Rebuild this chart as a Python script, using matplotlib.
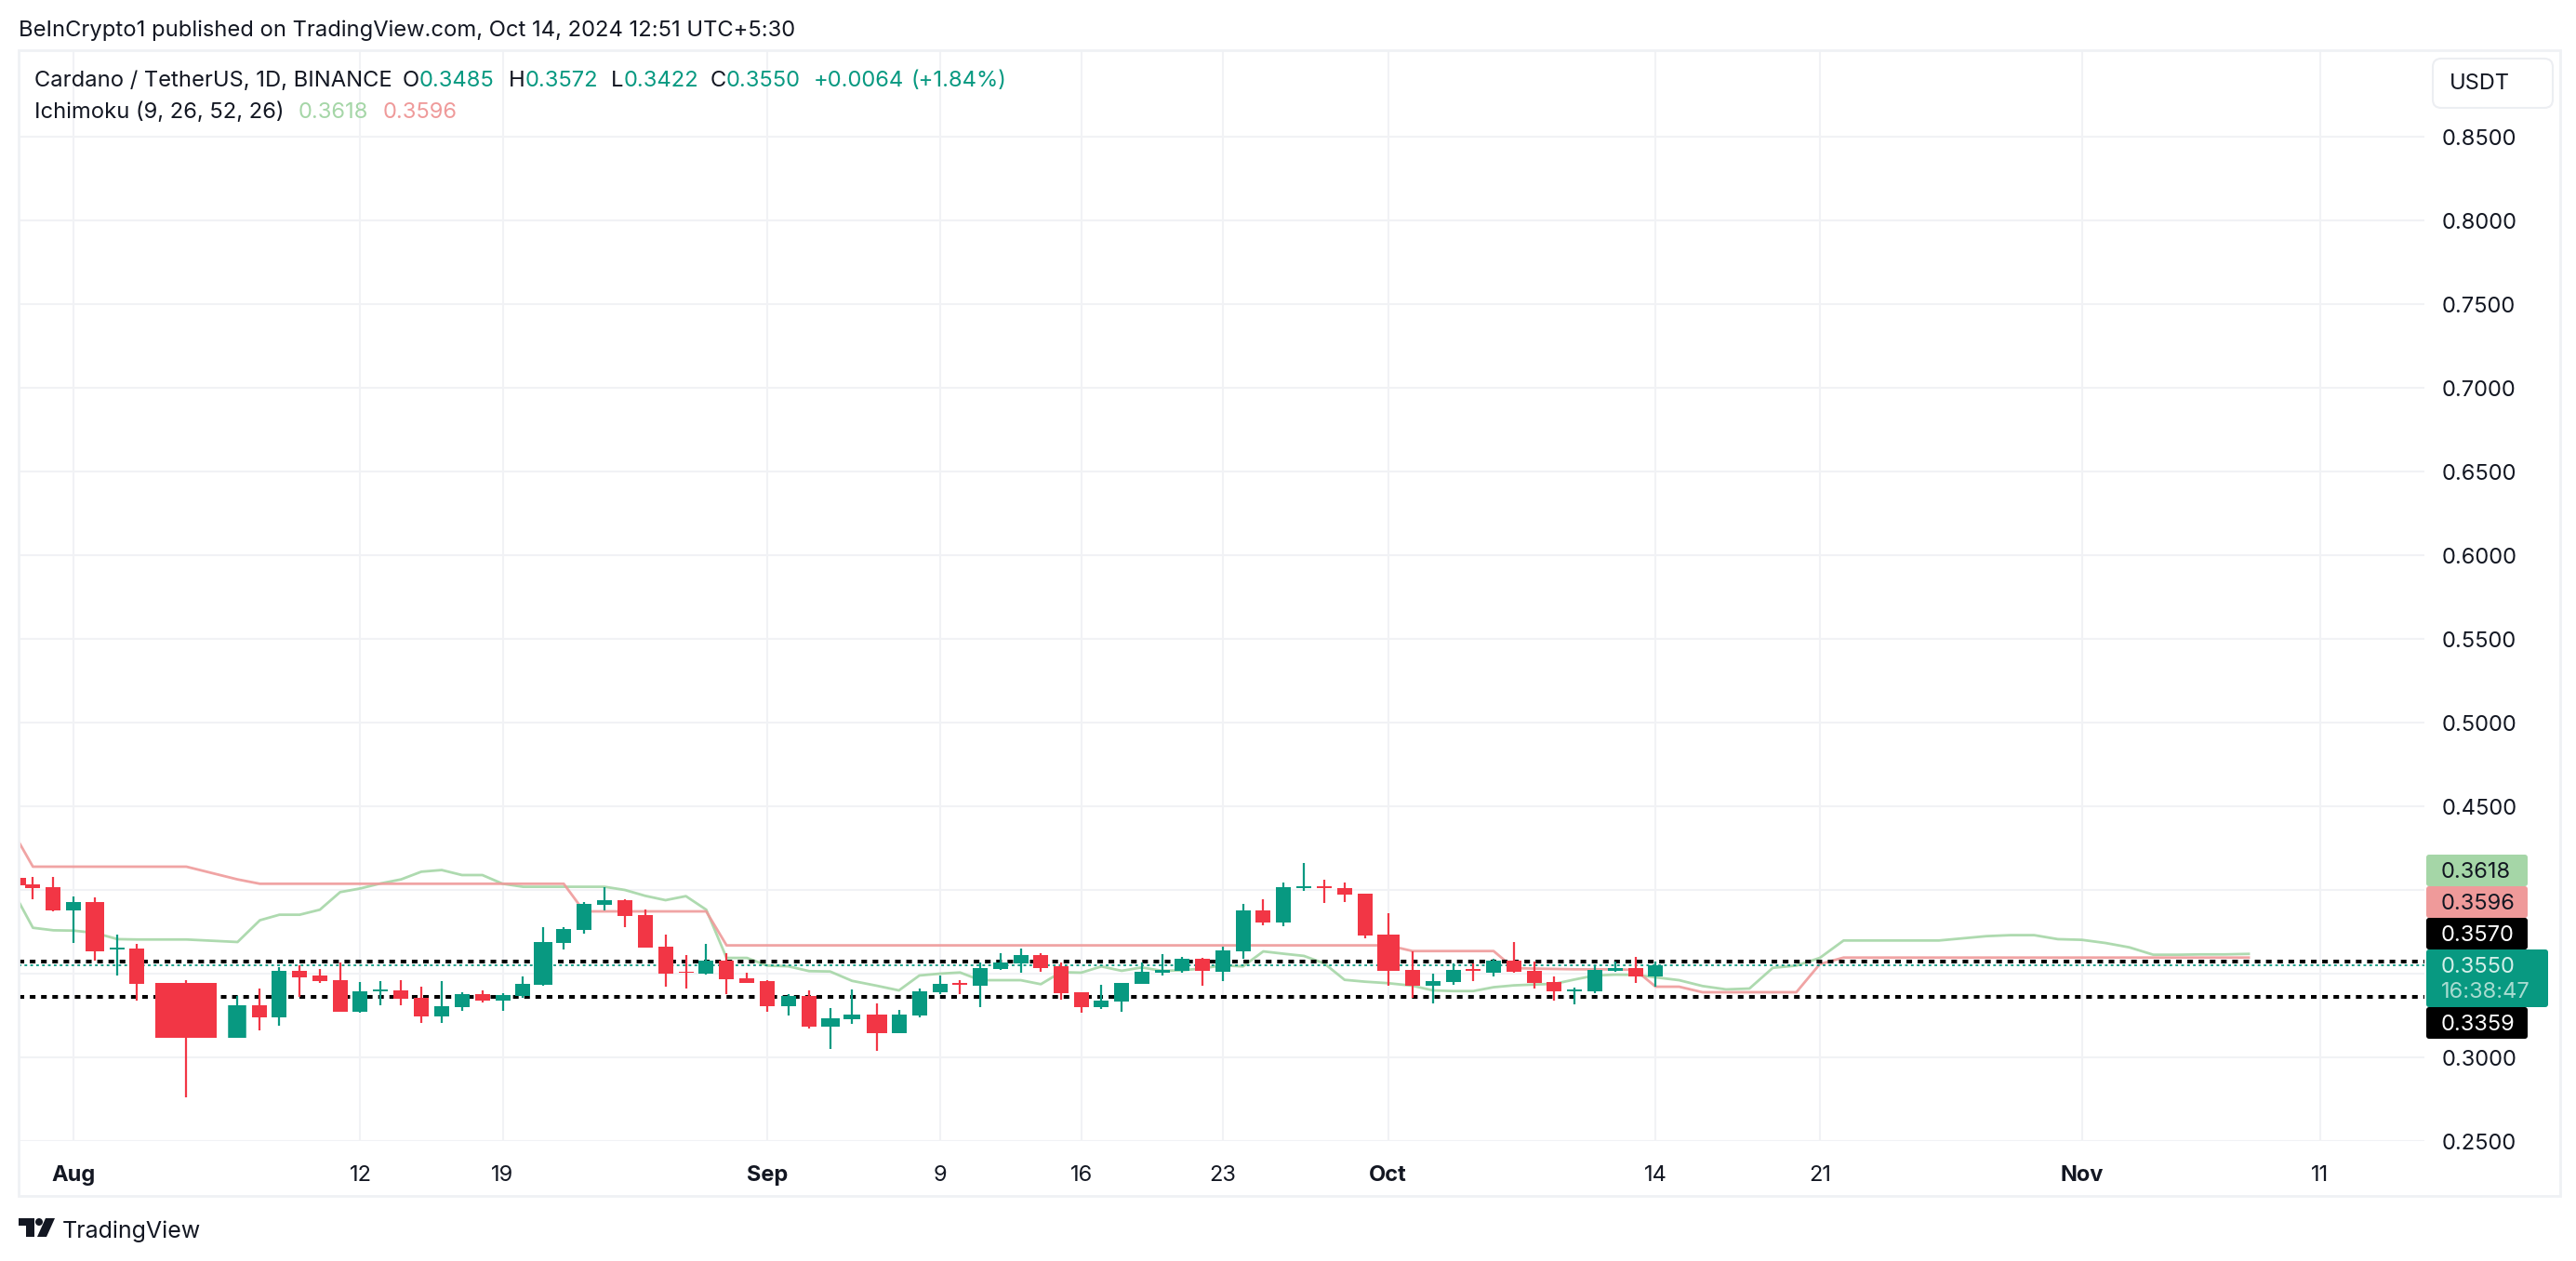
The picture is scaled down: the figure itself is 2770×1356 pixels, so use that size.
import numpy as np
import pandas as pd
import matplotlib
matplotlib.use('Agg')
import matplotlib.pyplot as plt
from matplotlib.patches import FancyBboxPatch, Rectangle, Polygon, Circle
from matplotlib.transforms import Affine2D

plt.rcParams['font.family'] = ['Inter', 'DejaVu Sans']

# daily candles, Jul 29 - Oct 14 2024
dates = pd.date_range('2024-07-29', '2024-10-14', freq='D')
opens = [.4072, .4033, .4017, .3878, .3928, .3644, .3650, .3444, .3119, .3311, .3241, .3517, .3489, .3461, .3274, .3396,
         .3400, .3356, .3246, .3302, .3378, .3341, .3367, .3433, .3685, .3761, .3913, .3939, .3850, .3661, .3511, .3500,
         .3578, .3472, .3456, .3307, .3367, .3185, .3228, .3256, .3146, .3250, .3389, .3444, .3428, .3528, .3561, .3611,
         .3544, .3389, .3300, .3333, .3439, .3506, .3517, .3589, .3511, .3633, .3878, .3806, .4013, .4022, .4011, .3978,
         .3733, .3522, .3428, .3450, .3528, .3506, .3578, .3517, .3450, .3396, .3394, .3517, .3533, .3485]
highs = [.4076, .4076, .4076, .3961, .3956, .3731, .3678, .3461, .3369, .3411, .3539, .3548, .3526, .3567, .3450, .3456,
         .3461, .3420, .3456, .3387, .3400, .3382, .3483, .3778, .3778, .3928, .4017, .3943, .3882, .3731, .3611, .3678,
         .3622, .3506, .3461, .3378, .3400, .3294, .3406, .3322, .3283, .3411, .3489, .3461, .3567, .3622, .3650, .3622,
         .3567, .3389, .3433, .3444, .3567, .3617, .3600, .3594, .3661, .3917, .3945, .4044, .4161, .4061, .4044, .3978,
         .3861, .3633, .3500, .3561, .3561, .3587, .3689, .3572, .3483, .3417, .3548, .3572, .3600, .3572]
lows = [.4030, .3946, .3872, .3683, .3580, .3491, .3341, .2761, .3119, .3161, .3191, .3363, .3446, .3274, .3269, .3311,
        .3311, .3206, .3206, .3280, .3328, .3280, .3354, .3428, .3644, .3739, .3878, .3778, .3657, .3422, .3411, .3494,
        .3378, .3444, .3272, .3250, .3172, .3050, .3200, .3039, .3146, .3239, .3378, .3378, .3300, .3522, .3506, .3511,
        .3344, .3267, .3289, .3272, .3439, .3489, .3506, .3428, .3456, .3587, .3789, .3783, .3994, .3922, .3928, .3711,
        .3428, .3354, .3322, .3433, .3456, .3483, .3506, .3411, .3339, .3317, .3383, .3511, .3444, .3422]
closes = [.4030, .4011, .3878, .3928, .3635, .3656, .3441, .3119, .3311, .3241, .3517, .3480, .3456, .3274, .3394, .3406,
          .3352, .3246, .3306, .3378, .3341, .3372, .3439, .3689, .3767, .3917, .3939, .3846, .3657, .3502, .3504, .3578,
          .3469, .3444, .3307, .3367, .3185, .3233, .3256, .3146, .3256, .3394, .3439, .3433, .3533, .3567, .3611, .3533,
          .3383, .3302, .3339, .3444, .3511, .3522, .3589, .3519, .3639, .3878, .3806, .4017, .4022, .4011, .3972, .3728,
          .3517, .3428, .3456, .3522, .3517, .3578, .3511, .3444, .3394, .3406, .3522, .3533, .3483, .3550]

# Ichimoku leading spans, Jul 29 - Nov 8 2024
span_dates = pd.date_range('2024-07-29', '2024-11-08', freq='D')
span_a = [.3932, .3774, .3759, .3757, .3743, .3706, .3704, .3704, .3689, .3819, .3852, .3852, .3882, .3987, .4009,
          .4039, .4063, .4109, .4119, .4089, .4089, .4037, .4019, .4019, .4019, .4019, .4019, .4000, .3965, .3939,
          .3963, .3882, .3594, .3594, .3548, .3544, .3515, .3513, .3457, .3428, .3400, .3489, .3500, .3507, .3461,
          .3461, .3461, .3437, .3509, .3506, .3543, .3517, .3537, .3517, .3520, .3531, .3550, .3543, .3633, .3619,
          .3606, .3561, .3463, .3452, .3443, .3428, .3400, .3396, .3396, .3419, .3430, .3435, .3439, .3465, .3489,
          .3494, .3493, .3478, .3461, .3426, .3406, .3411, .3535, .3548, .3594, .3698, .3698, .3698, .3698, .3698,
          .3711, .3724, .3730, .3730, .3706, .3702, .3683, .3657, .3613, .3613, .3615, .3615, .3618]
span_b = [.4289, .4139, .4139, .4139, .4139, .4139, .4139, .4139, .4063, .4037, .4037, .4037, .4037, .4037, .4037,
          .4037, .4037, .4037, .4037, .4037, .4037, .4037, .4037, .4037, .4037, .3872, .3872, .3872, .3872, .3872,
          .3872, .3872, .3669, .3669, .3669, .3669, .3669, .3669, .3669, .3669, .3669, .3669, .3669, .3669, .3669,
          .3669, .3669, .3669, .3669, .3669, .3669, .3669, .3669, .3669, .3669, .3669, .3669, .3669, .3669, .3669,
          .3669, .3669, .3669, .3669, .3669, .3635, .3635, .3635, .3635, .3635, .3533, .3530, .3528, .3526, .3526,
          .3526, .3522, .3422, .3422, .3389, .3389, .3389, .3389, .3389, .3557, .3596, .3596, .3596, .3596, .3596,
          .3596, .3596, .3596, .3596, .3596, .3596, .3596, .3596, .3596, .3596, .3596, .3596, .3596]

last_price = 0.3550
high_level = 0.3570
low_level = 0.3359
price_ticks = [0.25, 0.30, 0.35, 0.40, 0.45, 0.50, 0.55, 0.60, 0.65, 0.70, 0.75, 0.80, 0.85]
hidden_price_labels = [0.35, 0.40]
tick_dates = ['2024-08-01', '2024-08-12', '2024-08-19', '2024-09-01', '2024-09-09', '2024-09-16', '2024-09-23',
              '2024-10-01', '2024-10-14', '2024-10-21', '2024-11-01', '2024-11-11']
tick_labels = ['Aug', '12', '19', 'Sep', '9', '16', '23', 'Oct', '14', '21', 'Nov', '11']

GREEN = '#089981'
RED = '#F23645'
SPAN_A = '#A5D6A7'
SPAN_B = '#EF9A9A'
INK = '#131722'
GRID = '#f1f2f5'
W, H = 2770, 1356
FS = 17
LEGEND_FS = 17.1

# the time axis of the screenshot is not even, so days go through a lookup to pixels
anchor_days = [-3, -2, -1, 0, 1, 2, 3, 4, 5, 6, 7, 11, 18, 31, 34, 35, 36, 37, 38, 39, 46, 53, 60, 61, 62, 63, 74, 81, 92, 102, 112]
anchor_px = [20.6, 36, 58, 80, 103, 127, 148, 201, 256, 280, 301, 388, 541, 825.5, 893, 916.6, 943, 967, 989, 1011,
             1163, 1315, 1468, 1493, 1519, 1541, 1780.5, 1957, 2238.6, 2495, 2751]
body_px = {'2024-08-02': 20, '2024-08-05': 66, '2024-08-06': 19.5, '2024-08-21': 20, '2024-09-04': 20,
           '2024-09-05': 18, '2024-09-06': 22, '2024-10-01': 24}


def to_px(d):
    return np.interp(d, anchor_days, anchor_px)


def from_px(p):
    return np.interp(p, anchor_px, anchor_days)


def day_no(d):
    return (pd.to_datetime(d) - pd.Timestamp('2024-08-01')) / pd.Timedelta(days=1)


fig = plt.figure(figsize=(W / 100, H / 100), dpi=100, facecolor='white')
px = Affine2D().scale(1 / W, -1 / H).translate(0, 1) + fig.transFigure

left, right, top, bottom = 20, 2607, 55, 1227
ax = fig.add_axes([left / W, 1 - bottom / H, (right - left) / W, (bottom - top) / H])
ax.set_xscale('function', functions=(to_px, from_px))
ax.set_xlim(from_px(left), from_px(right))
ax.set_ylim(0.25, 0.30 + (1137 - top) / 1800)
for s in ax.spines.values():
    s.set_visible(False)

ax.set_xticks([day_no(d) for d in tick_dates])
ax.set_xticklabels(tick_labels)
ax.set_yticks(price_ticks)
ax.set_yticklabels(['' if p in hidden_price_labels else f'{p:.4f}' for p in price_ticks])
ax.yaxis.tick_right()
ax.tick_params(axis='x', length=0, pad=19, labelsize=FS, labelcolor=INK)
ax.tick_params(axis='y', length=0, pad=13.5, labelsize=FS, labelcolor=INK)
for lab in ax.get_xticklabels():
    if not lab.get_text().isdigit():
        lab.set_fontweight('bold')
ax.grid(True, color=GRID, lw=1.5)
ax.set_axisbelow(True)

# ichimoku spans
span_x = day_no(span_dates)
ax.plot(span_x, span_a, color=SPAN_A, lw=2.0, alpha=0.9, zorder=2)
ax.plot(span_x, span_b, color=SPAN_B, lw=2.0, alpha=0.9, zorder=2)

# level lines
ax.axhline(high_level, color='black', lw=2.9, ls=(0, (1.5, 1.5)), dash_capstyle='butt', zorder=3)
ax.axhline(low_level, color='black', lw=2.9, ls=(0, (1.5, 1.5)), dash_capstyle='butt', zorder=3)
ax.axhline(last_price, color=GREEN, lw=1.3, ls=(0, (1.6, 1.9)), dash_capstyle='butt', zorder=3)

# candles
x = np.asarray(day_no(dates))
o, h, l, c = map(np.array, (opens, highs, lows, closes))
colors = [GREEN if b >= a else RED for a, b in zip(o, c)]
widths = [body_px.get(d.strftime('%Y-%m-%d'), 16) * 0.72 for d in dates]
ax.vlines(x, l, h, colors=colors, lw=1.6, zorder=4, capstyle='butt')
ax.vlines(x, np.minimum(o, c), np.maximum(o, c), colors=colors, linewidths=widths, zorder=5, capstyle='butt')

# frame around the chart
fig.add_artist(Rectangle((20, 54), 2733, 1232, transform=px, fill=False, ec='#eff1f4', lw=2))


def tag(y0, y1, x1, color):
    fig.add_artist(FancyBboxPatch((2609, y0), x1 - 2609, y1 - y0, boxstyle='round,pad=0,rounding_size=3',
                                  transform=px, fc=color, ec='none', mutation_aspect=1))


def label(xp, yp, s, color=INK, **kw):
    kw.setdefault('fontsize', FS)
    fig.text(xp, yp, s, transform=px, color=color, va='center', **kw)


# price tags
tag(919, 953, 2718, SPAN_A)
tag(953, 987, 2718, SPAN_B)
tag(987, 1021, 2718, 'black')
tag(1021, 1083, 2740, GREEN)
tag(1083, 1117, 2718, 'black')
label(2625, 938, f'{span_a[-1]:.4f}')
label(2625, 972, f'{span_b[-1]:.4f}')
label(2625, 1006, f'{high_level:.4f}', 'white')
label(2625, 1040, f'{last_price:.4f}', '#d5efe9')
label(2625, 1067, '16:38:47', '#a9dcd1')
label(2625, 1102, f'{low_level:.4f}', 'white')

# USDT box
fig.add_artist(FancyBboxPatch((2616, 63), 129, 53, boxstyle='round,pad=0,rounding_size=9', transform=px,
                              fc='white', ec='#eceef2', lw=1.5))
label(2634, 90, 'USDT')

# header and legend
label(20, 33, 'BeInCrypto1 published on TradingView.com, Oct 14, 2024 12:51 UTC+5:30', fontsize=LEGEND_FS)
label(37, 87, 'Cardano / TetherUS, 1D, BINANCE', fontsize=LEGEND_FS)
legend_row = [(433, 'O', INK), (451, f'{opens[-1]:.4f}', GREEN), (547, 'H', INK), (565, f'{highs[-1]:.4f}', GREEN),
              (657, 'L', INK), (671, f'{lows[-1]:.4f}', GREEN), (764, 'C', INK), (781, f'{closes[-1]:.4f}', GREEN),
              (875, '+0.0064', GREEN), (979, '(+1.84%)', GREEN)]
for xp, s, col in legend_row:
    label(xp, 87, s, col, fontsize=LEGEND_FS)
label(37, 121, 'Ichimoku (9, 26, 52, 26)', fontsize=LEGEND_FS)
label(321, 121, f'{span_a[-1]:.4f}', SPAN_A, fontsize=LEGEND_FS)
label(412, 121, f'{span_b[-1]:.4f}', SPAN_B, fontsize=LEGEND_FS)

# TradingView logo
fig.add_artist(Polygon([(20, 1310), (37, 1310), (37, 1330), (27.5, 1330), (27.5, 1318), (20, 1318)], transform=px, fc=INK, ec='none'))
fig.add_artist(Circle((42, 1314), 4, transform=px, fc=INK, ec='none'))
fig.add_artist(Polygon([(49, 1310), (59, 1310), (50, 1330), (40, 1330)], transform=px, fc=INK, ec='none'))
label(67, 1324, 'TradingView', fontsize=18)

fig.savefig('out.png', dpi=100)
